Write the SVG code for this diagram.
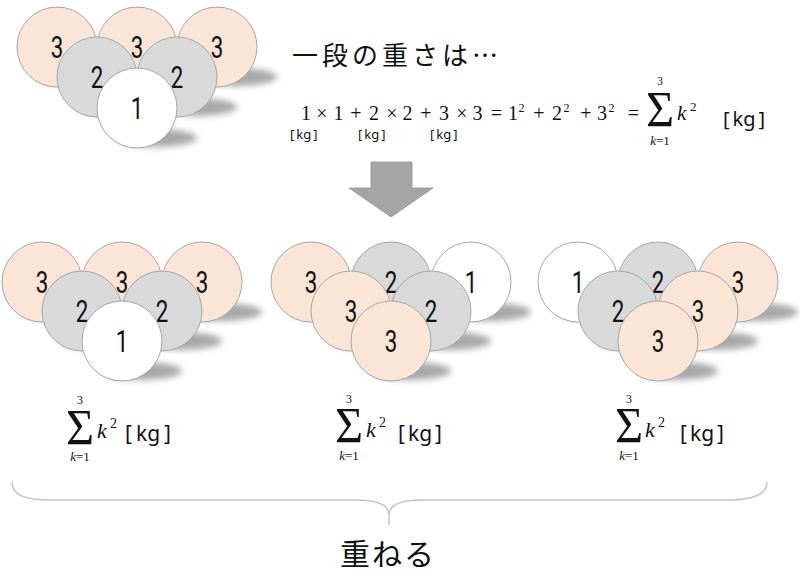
<svg xmlns="http://www.w3.org/2000/svg" width="800" height="574" viewBox="0 0 800 574">
<style>
.sh{fill:#7a7a7a;opacity:.65;filter:url(#blur)}
.c{stroke:#a6a6a6;stroke-width:1}
.p{fill:#fbe5d6}
.g{fill:#d9d9d9}
.w{fill:#ffffff}
.n{font-family:Roboto,"DejaVu Sans",sans-serif;font-weight:400;font-size:31px;text-anchor:middle;fill:#111}
.jp{font-family:"Noto Sans CJK JP","Noto Sans",sans-serif;fill:#111}
.m{font-family:"Liberation Serif","DejaVu Serif",serif;fill:#111}
.mc{text-anchor:middle}
.it{font-style:italic}
.kg{font-family:"Noto Sans","Noto Sans CJK JP",sans-serif;fill:#111}
</style>
<defs>
<filter id="blur" x="-30%" y="-100%" width="160%" height="300%"><feGaussianBlur stdDeviation="3"/></filter>
</defs>

<!-- top stack -->
<g id="top-stack">
<g id="t-b1"><ellipse class="sh" cx="77" cy="77" rx="40" ry="9"/><circle class="c p" cx="57" cy="47" r="40"/><text class="n" transform="translate(57,58) scale(0.72,1)">3</text></g>
<g id="t-b2"><ellipse class="sh" cx="157" cy="77" rx="40" ry="9"/><circle class="c p" cx="137" cy="47" r="40"/><text class="n" transform="translate(137,58) scale(0.72,1)">3</text></g>
<g id="t-b3"><ellipse class="sh" cx="237" cy="77" rx="40" ry="9"/><circle class="c p" cx="217" cy="47" r="40"/><text class="n" transform="translate(217,58) scale(0.72,1)">3</text></g>
<g id="t-m1"><ellipse class="sh" cx="117" cy="107" rx="40" ry="9"/><circle class="c g" cx="97" cy="77" r="40"/><text class="n" transform="translate(97,88) scale(0.72,1)">2</text></g>
<g id="t-m2"><ellipse class="sh" cx="197" cy="107" rx="40" ry="9"/><circle class="c g" cx="177" cy="77" r="40"/><text class="n" transform="translate(177,88) scale(0.72,1)">2</text></g>
<g id="t-f1"><ellipse class="sh" cx="157" cy="138" rx="40" ry="9"/><circle class="c w" cx="137" cy="108" r="40"/><text class="n" transform="translate(137,119) scale(0.72,1)">1</text></g>
</g>

<!-- title and equation -->
<g id="title"><text class="jp" x="292" y="65" font-size="26" letter-spacing="4">一段の重さは…</text></g>
<g id="equation" class="m" font-size="20">
<text class="mc" x="306" y="120">1</text>
<text class="mc" x="322" y="120">×</text>
<text class="mc" x="338.5" y="120">1</text>
<text class="mc" x="356" y="120">+</text>
<text class="mc" x="374" y="120">2</text>
<text class="mc" x="392" y="120">×</text>
<text class="mc" x="407.5" y="120">2</text>
<text class="mc" x="426" y="120">+</text>
<text class="mc" x="444" y="120">3</text>
<text class="mc" x="462" y="120">×</text>
<text class="mc" x="477.5" y="120">3</text>
<text class="mc" x="496.5" y="120">=</text>
<text class="mc" x="513" y="120">1</text>
<text class="mc" x="521.5" y="112" font-size="12">2</text>
<text class="mc" x="539" y="120">+</text>
<text class="mc" x="557" y="120">2</text>
<text class="mc" x="566.5" y="112" font-size="12">2</text>
<text class="mc" x="586" y="120">+</text>
<text class="mc" x="602" y="120">3</text>
<text class="mc" x="611.5" y="112" font-size="12">2</text>
<text class="mc" x="633.5" y="120">=</text>
<text class="mc" x="660" y="85" font-size="12">3</text>
<text class="mc" transform="translate(660,126) scale(1.15,1.2)" font-size="42">Σ</text>
<text class="mc" x="660" y="145" font-size="13"><tspan class="it">k</tspan>=1</text>
<text class="it" x="677" y="120" font-size="21">k</text>
<text x="690" y="111" font-size="13">2</text>
</g>
<g id="units-top">
<text class="kg" x="723" y="126" font-size="20">[<tspan dx="3">kg</tspan><tspan dx="3">]</tspan></text>
<text class="kg" x="290" y="139" font-size="13">[<tspan dx="2">kg</tspan><tspan dx="2">]</tspan></text>
<text class="kg" x="358" y="139" font-size="13">[<tspan dx="2">kg</tspan><tspan dx="2">]</tspan></text>
<text class="kg" x="430" y="139" font-size="13">[<tspan dx="2">kg</tspan><tspan dx="2">]</tspan></text>
</g>

<!-- arrow -->
<g id="arrow"><polygon points="371,162 412,162 412,188 433,188 391,217 349,188 371,188" fill="#a5a5a5" stroke="#939393" stroke-width="0.8"/></g>

<!-- bottom left stack -->
<g id="left-stack">
<g id="l-b1"><ellipse class="sh" cx="62" cy="312" rx="40" ry="9"/><circle class="c p" cx="42" cy="282" r="40"/><text class="n" transform="translate(42,293) scale(0.72,1)">3</text></g>
<g id="l-b2"><ellipse class="sh" cx="142" cy="312" rx="40" ry="9"/><circle class="c p" cx="122" cy="282" r="40"/><text class="n" transform="translate(122,293) scale(0.72,1)">3</text></g>
<g id="l-b3"><ellipse class="sh" cx="222" cy="312" rx="40" ry="9"/><circle class="c p" cx="202" cy="282" r="40"/><text class="n" transform="translate(202,293) scale(0.72,1)">3</text></g>
<g id="l-m1"><ellipse class="sh" cx="102" cy="341" rx="40" ry="9"/><circle class="c g" cx="82" cy="311" r="40"/><text class="n" transform="translate(82,322) scale(0.72,1)">2</text></g>
<g id="l-m2"><ellipse class="sh" cx="182" cy="341" rx="40" ry="9"/><circle class="c g" cx="162" cy="311" r="40"/><text class="n" transform="translate(162,322) scale(0.72,1)">2</text></g>
<g id="l-f1"><ellipse class="sh" cx="142" cy="371" rx="40" ry="9"/><circle class="c w" cx="122" cy="341" r="40"/><text class="n" transform="translate(122,352) scale(0.72,1)">1</text></g>
</g>

<!-- bottom middle stack -->
<g id="mid-stack">
<g id="m-b1"><ellipse class="sh" cx="331" cy="312" rx="40" ry="9"/><circle class="c p" cx="311" cy="282" r="40"/><text class="n" transform="translate(311,293) scale(0.72,1)">3</text></g>
<g id="m-b2"><ellipse class="sh" cx="411" cy="312" rx="40" ry="9"/><circle class="c g" cx="391" cy="282" r="40"/><text class="n" transform="translate(391,293) scale(0.72,1)">2</text></g>
<g id="m-b3"><ellipse class="sh" cx="491" cy="312" rx="40" ry="9"/><circle class="c w" cx="471" cy="282" r="40"/><text class="n" transform="translate(471,293) scale(0.72,1)">1</text></g>
<g id="m-m1"><ellipse class="sh" cx="371" cy="341" rx="40" ry="9"/><circle class="c p" cx="351" cy="311" r="40"/><text class="n" transform="translate(351,322) scale(0.72,1)">3</text></g>
<g id="m-m2"><ellipse class="sh" cx="451" cy="341" rx="40" ry="9"/><circle class="c g" cx="431" cy="311" r="40"/><text class="n" transform="translate(431,322) scale(0.72,1)">2</text></g>
<g id="m-f1"><ellipse class="sh" cx="411" cy="371" rx="40" ry="9"/><circle class="c p" cx="391" cy="341" r="40"/><text class="n" transform="translate(391,352) scale(0.72,1)">3</text></g>
</g>

<!-- bottom right stack -->
<g id="right-stack">
<g id="r-b1"><ellipse class="sh" cx="598" cy="312" rx="40" ry="9"/><circle class="c w" cx="578" cy="282" r="40"/><text class="n" transform="translate(578,293) scale(0.72,1)">1</text></g>
<g id="r-b2"><ellipse class="sh" cx="678" cy="312" rx="40" ry="9"/><circle class="c g" cx="658" cy="282" r="40"/><text class="n" transform="translate(658,293) scale(0.72,1)">2</text></g>
<g id="r-b3"><ellipse class="sh" cx="758" cy="312" rx="40" ry="9"/><circle class="c p" cx="738" cy="282" r="40"/><text class="n" transform="translate(738,293) scale(0.72,1)">3</text></g>
<g id="r-m1"><ellipse class="sh" cx="638" cy="341" rx="40" ry="9"/><circle class="c g" cx="618" cy="311" r="40"/><text class="n" transform="translate(618,322) scale(0.72,1)">2</text></g>
<g id="r-m2"><ellipse class="sh" cx="718" cy="341" rx="40" ry="9"/><circle class="c p" cx="698" cy="311" r="40"/><text class="n" transform="translate(698,322) scale(0.72,1)">3</text></g>
<g id="r-f1"><ellipse class="sh" cx="678" cy="371" rx="40" ry="9"/><circle class="c p" cx="658" cy="341" r="40"/><text class="n" transform="translate(658,352) scale(0.72,1)">3</text></g>
</g>

<!-- sums -->
<g id="sum-left" class="m">
<text class="mc" x="80" y="404" font-size="12">3</text>
<text class="mc" transform="translate(80,444) scale(1.15,1.2)" font-size="42">Σ</text>
<text class="mc" x="80" y="461" font-size="13"><tspan class="it">k</tspan>=1</text>
<text class="it" x="97" y="438" font-size="22">k</text>
<text x="110" y="428" font-size="14">2</text>
<text class="kg" x="125" y="441" font-size="21">[<tspan dx="4">kg</tspan><tspan dx="4">]</tspan></text>
</g>
<g id="sum-mid" class="m">
<text class="mc" x="349" y="403" font-size="12">3</text>
<text class="mc" transform="translate(349,442) scale(1.15,1.2)" font-size="42">Σ</text>
<text class="mc" x="349" y="460" font-size="13"><tspan class="it">k</tspan>=1</text>
<text class="it" x="366" y="437" font-size="22">k</text>
<text x="379" y="427" font-size="14">2</text>
<text class="kg" x="398" y="441" font-size="21">[<tspan dx="3">kg</tspan><tspan dx="3">]</tspan></text>
</g>
<g id="sum-right" class="m">
<text class="mc" x="629" y="403" font-size="12">3</text>
<text class="mc" transform="translate(629,442) scale(1.15,1.2)" font-size="42">Σ</text>
<text class="mc" x="629" y="460" font-size="13"><tspan class="it">k</tspan>=1</text>
<text class="it" x="645" y="437" font-size="22">k</text>
<text x="658" y="427" font-size="14">2</text>
<text class="kg" x="680" y="441" font-size="21">[<tspan dx="3">kg</tspan><tspan dx="3">]</tspan></text>
</g>

<!-- brace -->
<g id="connectors">
<path d="M12,482 C12,495 25,500 50,500 L355,500 C378,500 389,505 389,515 L389,525 M389,515 C389,505 400,500 423,500 L728,500 C753,500 767,495 767,482" fill="none" stroke="#c4c4c4" stroke-width="1.5"/>
</g>
<g id="label-bottom"><text class="jp" x="388" y="565" font-size="30" text-anchor="middle" letter-spacing="2">重ねる</text></g>
</svg>
